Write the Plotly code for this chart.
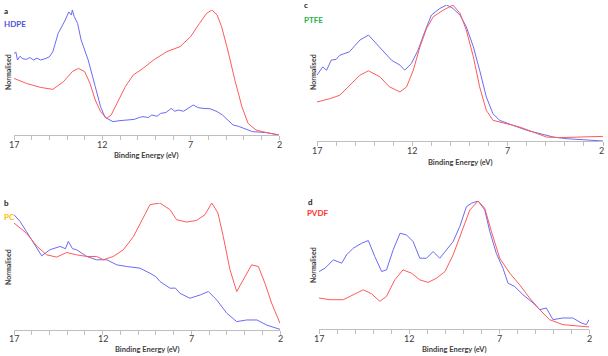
import plotly.graph_objects as go

W, H = 608, 356

# ---------------- data (energy in eV, normalised intensity) ----------------
hdpe_blue_E = [17, 16.9, 16.8, 16.66, 16.5, 16.3, 16.1, 15.9, 15.7, 15.5, 15.25, 15.0, 14.8, 14.5, 14.1, 13.9, 13.75, 13.7, 13.6, 13.4, 13.2,
               12.8, 12.4, 12.1, 11.85, 11.4, 11.0, 10.6, 10.2, 9.9, 9.7, 9.4, 9.2, 8.9, 8.7, 8.4, 8.1, 7.9, 7.7, 7.4, 7.1, 6.85, 6.6,
               6.3, 5.9, 5.5, 5.2, 5.0, 4.8, 4.6, 4.3, 4.0, 3.5, 2.7, 2.0]
hdpe_blue_I = [0.65, 0.665, 0.6, 0.63, 0.61, 0.605, 0.62, 0.6, 0.615, 0.6, 0.61, 0.625, 0.667, 0.813, 0.92, 0.985, 0.96, 1.0, 0.95, 0.893, 0.76,
               0.6, 0.387, 0.227, 0.141, 0.107, 0.115, 0.12, 0.125, 0.14, 0.147, 0.14, 0.16, 0.15, 0.173, 0.18, 0.213, 0.19, 0.2, 0.19, 0.215,
               0.24, 0.22, 0.213, 0.21, 0.187, 0.16, 0.133, 0.11, 0.08, 0.07, 0.053, 0.027, 0.019, 0.0]
hdpe_red_E = [17, 16.3, 15.5, 14.8, 14.2, 13.7, 13.35, 13.0, 12.7, 12.4, 12.1, 11.75, 11.5, 11.1, 10.7, 10.25, 9.7, 9.1, 8.35, 7.6,
              7.0, 6.5, 6.1, 5.8, 5.5, 5.25, 4.9, 4.5, 4.1, 3.75, 3.3, 2.7, 2.0]
hdpe_red_I = [0.453, 0.413, 0.381, 0.365, 0.427, 0.507, 0.533, 0.507, 0.413, 0.28, 0.187, 0.133, 0.16, 0.28, 0.387, 0.48, 0.533, 0.6, 0.667, 0.707,
              0.787, 0.893, 0.973, 1.0, 0.96, 0.867, 0.68, 0.44, 0.227, 0.093, 0.04, 0.019, 0.0]

ptfe_blue_E = [17, 16.7, 16.5, 16.25, 16.0, 15.8, 15.3, 14.75, 14.3, 13.98, 13.5, 13.1, 12.65, 12.4, 12.05, 11.7, 11.35, 11.0, 10.55, 10.2, 9.87, 9.5,
               9.17, 8.8, 8.47, 8.12, 7.77, 7.42, 6.72, 6.0, 5.3, 4.6, 3.9, 3.05, 2.0]
ptfe_blue_I = [0.484, 0.545, 0.52, 0.595, 0.6, 0.631, 0.656, 0.742, 0.779, 0.73, 0.656, 0.595, 0.558, 0.521, 0.57, 0.668, 0.803, 0.926, 0.975, 1.0, 0.975, 0.926,
               0.84, 0.693, 0.521, 0.324, 0.2, 0.152, 0.115, 0.079, 0.054, 0.029, 0.017, 0.01, 0.0]
ptfe_red_E = [17, 16.3, 15.8, 15.3, 14.75, 14.3, 13.7, 13.2, 12.65, 12.3, 11.95, 11.6, 11.25, 10.9, 10.37, 9.87, 9.5, 9.17, 8.8, 8.47,
              8.12, 7.77, 7.07, 6.37, 5.67, 4.97, 4.27, 3.2, 2.0]
ptfe_red_I = [0.287, 0.312, 0.337, 0.41, 0.484, 0.516, 0.472, 0.398, 0.361, 0.398, 0.521, 0.693, 0.828, 0.914, 0.963, 1.0, 0.939, 0.816, 0.619, 0.398,
              0.226, 0.152, 0.128, 0.103, 0.066, 0.029, 0.025, 0.029, 0.034]

pc_blue_E = [17, 16.66, 16.3, 15.9, 15.44, 14.97, 14.4, 14.1, 13.94, 13.7, 13.47, 12.9, 12.34, 11.77, 11.2, 10.65, 9.9, 9.33, 9.0, 8.77, 8.5, 8.2,
             7.9, 7.64, 7.08, 6.5, 6.04, 5.57, 5.0, 4.44, 3.88, 3.3, 2.75, 2.0]
pc_blue_I = [0.908, 0.855, 0.776, 0.684, 0.584, 0.632, 0.658, 0.64, 0.697, 0.64, 0.632, 0.579, 0.553, 0.553, 0.513, 0.5, 0.487, 0.447, 0.42, 0.382,
             0.36, 0.329, 0.33, 0.289, 0.25, 0.276, 0.303, 0.237, 0.132, 0.066, 0.079, 0.079, 0.039, 0.005]
pc_red_E = [17, 16.3, 15.7, 15.16, 14.6, 14.03, 13.47, 12.9, 12.34, 11.96, 11.4, 10.83, 10.26, 9.7, 9.33, 8.77, 8.2, 7.83, 7.26, 6.7,
            6.23, 5.85, 5.5, 5.2, 4.82, 4.44, 4.07, 3.6, 3.22, 2.85, 2.47, 2.0]
pc_red_I = [0.842, 0.763, 0.658, 0.592, 0.574, 0.61, 0.592, 0.579, 0.579, 0.553, 0.579, 0.632, 0.737, 0.895, 0.987, 1.0, 0.947, 0.868, 0.85, 0.863,
            0.908, 1.0, 0.921, 0.737, 0.474, 0.303, 0.395, 0.513, 0.5, 0.368, 0.211, 0.053]

pvdf_blue_E = [17, 16.67, 16.2, 15.74, 15.47, 15.1, 14.63, 14.26, 13.9, 13.52, 13.25, 12.88, 12.5, 12.14, 11.77, 11.4, 11.03, 10.66, 10.29, 9.92,
               9.55, 9.18, 8.81, 8.53, 8.16, 7.79, 7.51, 7.15, 6.78, 6.5, 6.13, 5.67, 5.1, 4.74, 4.37, 4.0, 3.45, 2.9, 2.43, 2.15, 2.0]
pvdf_blue_I = [0.449, 0.475, 0.54, 0.514, 0.579, 0.631, 0.67, 0.691, 0.566, 0.449, 0.462, 0.618, 0.748, 0.735, 0.683, 0.553, 0.553, 0.605, 0.553, 0.618,
               0.683, 0.8, 0.956, 0.982, 1.0, 0.93, 0.761, 0.592, 0.475, 0.358, 0.332, 0.268, 0.203, 0.151, 0.164, 0.073, 0.086, 0.086, 0.047, 0.034, 0.073]
pvdf_red_E = [17, 16.4, 15.65, 15.1, 14.54, 14.08, 13.62, 13.25, 12.79, 12.33, 11.86, 11.4, 10.94, 10.47, 10.0, 9.55, 9.09, 8.62, 8.16, 7.79,
              7.42, 6.96, 6.4, 5.85, 5.3, 4.74, 4.19, 3.45, 2.0]
pvdf_red_I = [0.242, 0.229, 0.229, 0.268, 0.306, 0.275, 0.216, 0.255, 0.384, 0.462, 0.436, 0.384, 0.364, 0.397, 0.449, 0.579, 0.748, 0.93, 1.0, 0.943,
              0.761, 0.553, 0.436, 0.345, 0.242, 0.151, 0.073, 0.034, 0.016]

x_ticks = [17, 12, 7, 2]
x_title = "Binding Energy (eV)"
y_title = "Normalised"

BLUE = "#6b6bf5"
RED = "#ff5a5a"
FONT = "Lato"

# panel geometry in pixels: (x_left, x_right, y_axis, y_top)
panels = [
    dict(name="a", label="HDPE", color="#5050e0", geom=(14, 279, 135, 10),
         blue=(hdpe_blue_E, hdpe_blue_I), red=(hdpe_red_E, hdpe_red_I),
         letter_xy=(2, 11), label_xy=(2, 24), tick_y=145, title_y=155, ylab_xy=(8, 72)),
    dict(name="c", label="PTFE", color="#22b14c", geom=(317, 603, 141, 5),
         blue=(ptfe_blue_E, ptfe_blue_I), red=(ptfe_red_E, ptfe_red_I),
         letter_xy=(302, 5), label_xy=(302, 20), tick_y=150, title_y=162, ylab_xy=(313, 72)),
    dict(name="b", label="PC", color="#ffc000", geom=(14, 280, 330, 203),
         blue=(pc_blue_E, pc_blue_I), red=(pc_red_E, pc_red_I),
         letter_xy=(2, 203), label_xy=(2, 217), tick_y=338, title_y=349, ylab_xy=(8, 267)),
    dict(name="d", label="PVDF", color="#ff3030", geom=(319, 589, 329, 201),
         blue=(pvdf_blue_E, pvdf_blue_I), red=(pvdf_red_E, pvdf_red_I),
         letter_xy=(306, 202), label_xy=(305, 213), tick_y=338, title_y=349, ylab_xy=(313, 265)),
]

fig = go.Figure()
annotations = []
layout = {}

def px(x):
    return x / W

def py(y):
    return 1 - y / H

for i, p in enumerate(panels, start=1):
    xl, xr, ya, yt = p["geom"]
    xa = "xaxis" if i == 1 else f"xaxis{i}"
    yax = "yaxis" if i == 1 else f"yaxis{i}"
    xref = "x" if i == 1 else f"x{i}"
    yref = "y" if i == 1 else f"y{i}"
    layout[xa] = dict(domain=[px(xl), px(xr)], range=[17, 2], anchor=yref,
                      showgrid=False, zeroline=False, showline=True, linecolor="#bfbfbf", linewidth=1,
                      ticks="outside", ticklen=4, tickcolor="#bfbfbf", tickvals=x_ticks,
                      showticklabels=False,
                      minor=dict(dtick=1, ticks="outside", ticklen=4, tickcolor="#bfbfbf", showgrid=False))
    layout[yax] = dict(domain=[py(ya), py(yt)], range=[0, 1], anchor=xref,
                       showgrid=False, zeroline=False, showline=False, showticklabels=False, ticks="")
    fig.add_trace(go.Scatter(x=p["blue"][0], y=p["blue"][1], mode="lines",
                             line=dict(color=BLUE, width=1), xaxis=xref, yaxis=yref, showlegend=False))
    fig.add_trace(go.Scatter(x=p["red"][0], y=p["red"][1], mode="lines",
                             line=dict(color=RED, width=1), xaxis=xref, yaxis=yref, showlegend=False))
    # tick labels
    for t in x_ticks:
        xs = -2 if (t == 2 and xr > 600) else 0
        annotations.append(dict(x=t, xref=xref, y=py(p["tick_y"]), yref="paper", text=str(t),
                                showarrow=False, xanchor="center", yanchor="middle", xshift=xs,
                                font=dict(family=FONT, size=9, color="#404040")))
    annotations.append(dict(x=px((xl + xr) / 2), xref="paper", y=py(p["title_y"]), yref="paper",
                            text=f"<b>{x_title}</b>", showarrow=False, xanchor="center", yanchor="middle",
                            font=dict(family=FONT, size=7.5, color="#404040")))
    annotations.append(dict(x=px(p["ylab_xy"][0]), xref="paper", y=py(p["ylab_xy"][1]), yref="paper",
                            text=f"<b>{y_title}</b>", showarrow=False, textangle=-90,
                            xanchor="center", yanchor="middle",
                            font=dict(family=FONT, size=7, color="#404040")))
    annotations.append(dict(x=px(p["letter_xy"][0]), xref="paper", y=py(p["letter_xy"][1]), yref="paper",
                            text=f"<b>{p['name']}</b>", showarrow=False, xanchor="left", yanchor="middle",
                            font=dict(family=FONT, size=8, color="#202020")))
    annotations.append(dict(x=px(p["label_xy"][0]), xref="paper", y=py(p["label_xy"][1]), yref="paper",
                            text=f"<b>{p['label']}</b>", showarrow=False, xanchor="left", yanchor="middle",
                            font=dict(family=FONT, size=8, color=p["color"])))

fig.update_layout(width=W, height=H, margin=dict(l=0, r=0, t=0, b=0),
                  paper_bgcolor="white", plot_bgcolor="white",
                  annotations=annotations, **layout)

fig.write_html("out.html", config={"displayModeBar": False},
               post_script="document.body.style.margin='0';document.body.style.overflow='hidden';")
